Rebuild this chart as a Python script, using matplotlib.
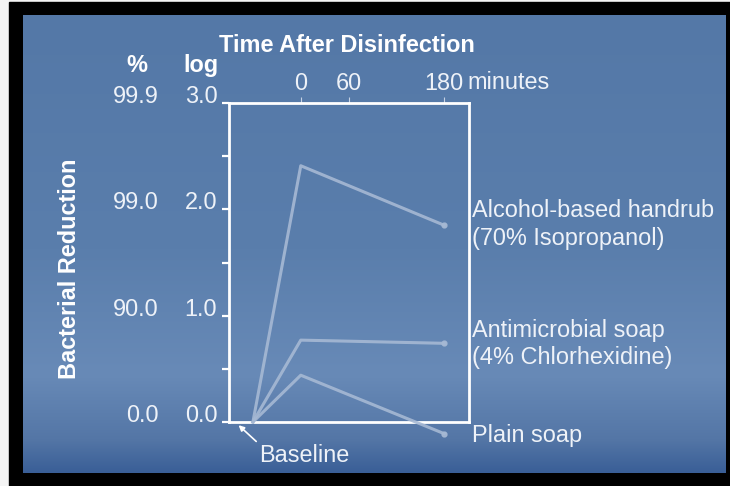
import numpy as np
import matplotlib
matplotlib.use("Agg")
import matplotlib.pyplot as plt
from matplotlib.patches import Rectangle

plt.rcParams['font.family'] = ['Liberation Sans', 'DejaVu Sans']

# data (log reduction vs minutes after disinfection, baseline drawn at -60)
minutes = [-60, 0, 180]
alcohol = [0.0, 2.41, 1.85]
antimicrobial = [0.0, 0.77, 0.74]
plain_soap = [0.0, 0.44, -0.11]

log_ticks = [0, 1, 2, 3]
log_labels = ['0.0', '1.0', '2.0', '3.0']
pct_labels = ['0.0', '90.0', '99.0', '99.9']
time_ticks = [0, 60, 180]

W, H = 730, 486
fig = plt.figure(figsize=(W / 100, H / 100), dpi=100)
fig.patch.set_facecolor('#f4f4f4')

# background in pixel coordinates
bg = fig.add_axes([0, 0, 1, 1], zorder=-1)
bg.axis('off')
bg.add_patch(Rectangle((9, 2), W - 9, H - 2, color='black', zorder=1))

rows = np.linspace(16, 473, 300)
stops_y = [16, 250, 375, 440, 473]
stops_c = np.array([[84, 120, 167], [90, 126, 172], [104, 138, 183],
                    [84, 118, 166], [58, 95, 151]]) / 255.0
grad = np.stack([np.interp(rows, stops_y, stops_c[:, k]) for k in range(3)], axis=1)
bg.imshow(grad[:, None, :], extent=(22.7, 725, 473, 16), aspect='auto',
          interpolation='bilinear', zorder=2)
bg.set_xlim(0, W)
bg.set_ylim(H, 0)

fs = 16.9
txt = '#eef2f8'

# main axes
ax = fig.add_axes([229 / W, (H - 422) / H, 240 / W, 319 / H])
ax.patch.set_alpha(0)
ax.set_xlim(-90, 211)
ax.set_ylim(0, 3)

line_c = '#a6b9d4'
for vals in [alcohol, antimicrobial, plain_soap]:
    ax.plot(minutes, vals, color=line_c, lw=2.2, clip_on=False, alpha=0.9,
            marker='o', markevery=[2], ms=3.5, zorder=3)

for s in ax.spines.values():
    s.set_color('white')
    s.set_linewidth(2)

ax.set_yticks(log_ticks, log_labels)
ax.set_yticks([0.5, 1.5, 2.5], minor=True)
ax.tick_params(axis='y', which='both', direction='out', length=5, width=1.6,
               color='white', labelcolor=txt, labelsize=fs, pad=3.5)
for lab in ax.get_yticklabels():
    lab.set_verticalalignment('baseline')

ax.xaxis.tick_top()
ax.set_xticks(time_ticks, ['0', '60', '180'])
ax.tick_params(axis='x', direction='out', length=4.3, width=0.8, color='#c5d2e4',
               labelcolor=txt, labelsize=fs, pad=1.5)

# percent column
for v, lab in zip(log_ticks, pct_labels):
    ax.annotate(lab, xy=(0, v), xycoords=('axes fraction', 'data'),
                xytext=(-70, 0), textcoords='offset pixels',
                ha='right', va='baseline', color=txt, fontsize=fs)

# header texts (pixel positions of the reference)
bg.text(346.5, 52, 'Time After Disinfection', ha='center', va='baseline',
        color='white', fontsize=fs, fontweight='bold')
bg.text(137, 72, '%', ha='center', va='baseline', color='white',
        fontsize=fs, fontweight='bold')
bg.text(201, 72, 'log', ha='center', va='baseline', color='white',
        fontsize=fs, fontweight='bold')
bg.text(467, 89, 'minutes', ha='left', va='baseline', color=txt, fontsize=fs)
bg.text(69, 269, 'Bacterial Reduction', ha='center', va='center', rotation=90,
        color='white', fontsize=fs, fontweight='bold')

# series labels
bg.text(472, 217, 'Alcohol-based handrub', ha='left', va='baseline', color=txt, fontsize=fs)
bg.text(472, 245, '(70% Isopropanol)', ha='left', va='baseline', color=txt, fontsize=fs)
bg.text(472, 337, 'Antimicrobial soap', ha='left', va='baseline', color=txt, fontsize=fs)
bg.text(472, 364, '(4% Chlorhexidine)', ha='left', va='baseline', color=txt, fontsize=fs)
bg.text(472, 442, 'Plain soap', ha='left', va='baseline', color=txt, fontsize=fs)

# baseline pointer
ax.annotate('Baseline', xy=(-78, -0.03), xycoords='data',
            xytext=(259, 462), textcoords=bg.transData,
            ha='left', va='baseline', color=txt, fontsize=fs,
            arrowprops=dict(arrowstyle='-|>', color='white', lw=1.2,
                            mutation_scale=8, shrinkA=0, shrinkB=0,
                            relpos=(0, 1)),
            annotation_clip=False)

fig.savefig('out.png', dpi=100)
